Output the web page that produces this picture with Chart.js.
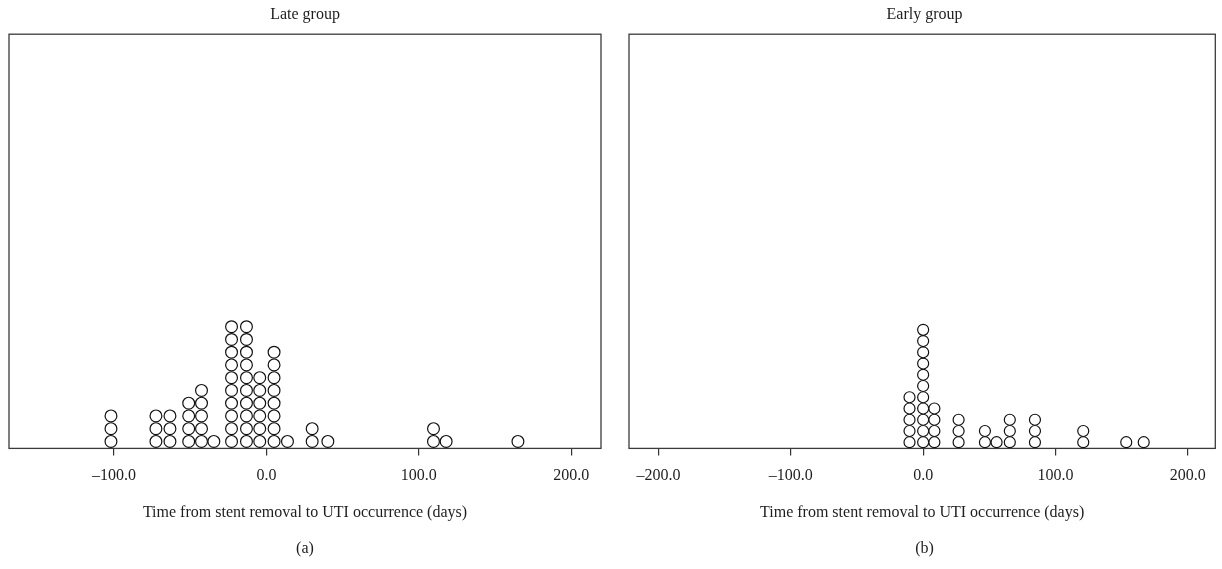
<!DOCTYPE html>
<html>
<head>
<meta charset="utf-8">
<script src="https://cdn.jsdelivr.net/npm/chart.js@4.4.1/dist/chart.umd.min.js"></script>
<style>
  html, body { margin: 0; padding: 0; background: #fff; }
  #wrap { position: relative; width: 1222px; height: 569px; }
  .panel { position: absolute; top: 0; height: 569px; }
  #late { left: 0; width: 611px; }
  #early { left: 611px; width: 611px; }
</style>
</head>
<body>
<div id="wrap">
  <div class="panel" id="late"><canvas id="lateChart" width="611" height="569"></canvas></div>
  <div class="panel" id="early"><canvas id="earlyChart" width="611" height="569"></canvas></div>
</div>
<script>
// --- dados (dias, quantidade de casos empilhados) ---
const lateDays = [-102, -72.5, -63.3, -51, -42.6, -34.5, -22.9, -13.1, -4.4, 5, 13.8, 30, 40.3, 109.6, 117.9, 165];
const lateCounts = [3, 3, 3, 4, 5, 1, 10, 10, 6, 8, 1, 2, 1, 2, 1, 1];

const earlyDays = [-10.3, 0, 8.5, 26.8, 46.7, 55.5, 65.5, 84.5, 121, 153.5, 166.7];
const earlyCounts = [5, 11, 4, 3, 2, 1, 3, 3, 2, 1, 1];

const lateTicks = [-100, 0, 100, 200];
const earlyTicks = [-200, -100, 0, 100, 200];

const axisTitle = 'Time from stent removal to UTI occurrence (days)';
const SERIF = '"Liberation Serif", "DejaVu Serif", serif';

// empilha os pontos: um círculo por caso
function stackPoints(days, counts) {
    const pts = [];
    days.forEach((d, i) => {
        for (let k = 0; k < counts[i]; k++) pts.push({ x: d, y: k });
    });
    return pts;
}

// moldura em volta da área do gráfico
const framePlugin = {
    id: 'frame',
    beforeDatasetsDraw(chart) {
        const a = chart.chartArea;
        const ctx = chart.ctx;
        ctx.save();
        ctx.strokeStyle = '#3a3a3a';
        ctx.lineWidth = 1.3;
        ctx.strokeRect(a.left, a.top, a.right - a.left, a.bottom - a.top);
        ctx.restore();
    }
};

function fmt(v) {
    return (v < 0 ? '\u2013' + Math.abs(v).toFixed(1) : v.toFixed(1));
}

function makeChart(id, opts) {
    const ctx = document.getElementById(id).getContext('2d');
    return new Chart(ctx, {
        type: 'scatter',
        data: {
            datasets: [{
                data: stackPoints(opts.days, opts.counts),
                pointStyle: 'circle',
                pointRadius: opts.radius,
                pointHoverRadius: opts.radius,
                pointBackgroundColor: '#ffffff',
                pointBorderColor: '#111111',
                pointBorderWidth: 1.2
            }]
        },
        options: {
            responsive: false,
            animation: false,
            events: [],
            layout: { padding: opts.padding },
            plugins: {
                legend: { display: false },
                tooltip: { enabled: false },
                title: {
                    display: true,
                    text: opts.title,
                    color: '#1e1e1e',
                    font: { family: SERIF, size: 16, weight: 'normal' },
                    padding: { top: 0, bottom: 10 }
                },
                subtitle: {
                    display: true,
                    text: opts.label,
                    position: 'bottom',
                    color: '#1e1e1e',
                    font: { family: SERIF, size: 16, weight: 'normal' },
                    padding: { top: 16, bottom: 11 }
                }
            },
            scales: {
                x: {
                    type: 'linear',
                    min: opts.min,
                    max: opts.max,
                    afterBuildTicks: (scale) => {
                        scale.ticks = opts.ticks.map(v => ({ value: v }));
                    },
                    grid: {
                        display: true,
                        drawOnChartArea: false,
                        drawTicks: true,
                        tickLength: 7,
                        color: '#333',
                        lineWidth: 1.2
                    },
                    border: { display: false },
                    ticks: {
                        color: '#1e1e1e',
                        padding: 11,
                        maxRotation: 0,
                        font: { family: SERIF, size: 16 },
                        callback: (v) => fmt(v)
                    },
                    title: {
                        display: true,
                        text: axisTitle,
                        color: '#1e1e1e',
                        font: { family: SERIF, size: 16 },
                        padding: { top: 7, bottom: 0 }
                    }
                },
                y: {
                    display: false,
                    min: -0.55,
                    max: opts.ymax
                }
            }
        },
        plugins: [framePlugin]
    });
}

makeChart('lateChart', {
    days: lateDays, counts: lateCounts, ticks: lateTicks,
    min: -168.9, max: 219.5, ymax: 31.95, radius: 5.9,
    title: 'Late group', label: '(a)',
    padding: { left: 9, right: 10, top: 5, bottom: 0 }
});

makeChart('earlyChart', {
    days: earlyDays, counts: earlyCounts, ticks: earlyTicks,
    min: -222.3, max: 220.8, ymax: 36.3, radius: 5.5,
    title: 'Early group', label: '(b)',
    padding: { left: 18, right: 2, top: 5, bottom: 0 }
});
</script>
</body>
</html>
